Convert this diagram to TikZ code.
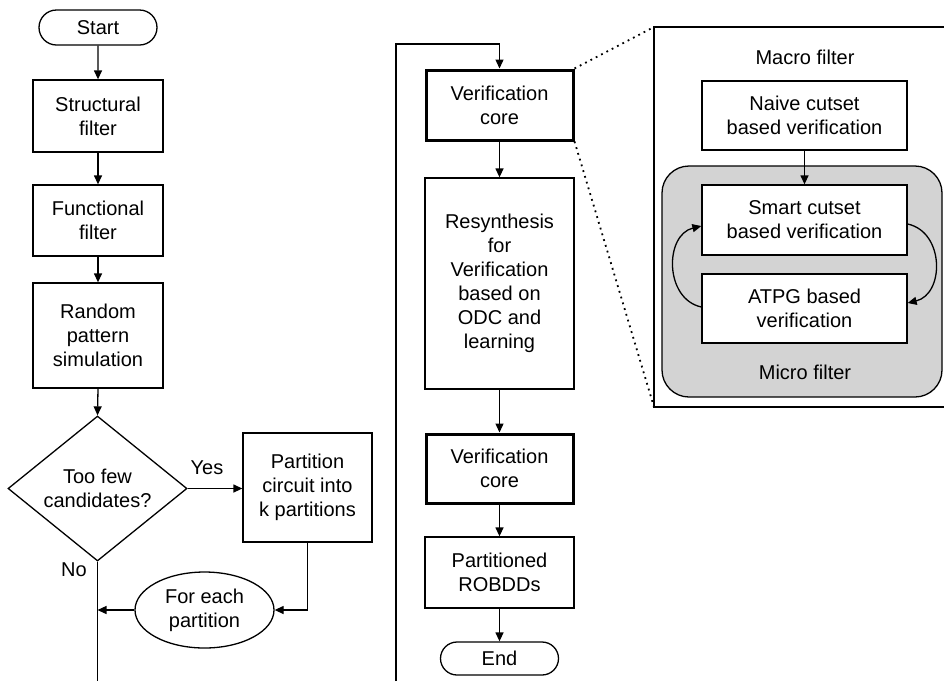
\documentclass[tikz,border=0pt]{standalone}
\usepackage{fontspec}
\setmainfont{Liberation Sans}
\usetikzlibrary{shapes.geometric,shapes.misc,arrows.meta}
\definecolor{microgray}{RGB}{211,211,211}
\begin{document}
\begin{tikzpicture}[x=1pt,y=-1pt,
  every node/.style={font=\fontsize{20}{24}\selectfont, align=center, inner sep=0pt},
  box/.style={draw, line width=1.3pt, rectangle},
  corebox/.style={draw, line width=3pt, rectangle},
  term/.style={draw, line width=1.3pt, rounded rectangle},
  plain/.style={line width=1.3pt},
  flow/.style={line width=1.3pt, -{Triangle[length=9pt,width=8pt]}},
  dotline/.style={line width=1.8pt, dash pattern=on 1.8pt off 4.2pt}]
\useasboundingbox (0,0) rectangle (944,681);

% left column
\node[term, minimum width=118pt, minimum height=35pt] (start) at (98,27.5) {Start};
\node[box, minimum width=130pt, minimum height=72pt] (struct) at (98,116) {Structural\\filter};
\node[box, minimum width=130pt, minimum height=71pt] (func) at (98,220.5) {Functional\\filter};
\node[box, minimum width=130pt, minimum height=105pt] (rand) at (98,335.5) {Random\\pattern\\simulation};
\node[draw, diamond, line width=1.3pt, aspect=1.234, minimum width=179pt, minimum height=145pt] (dec) at (97.5,488.5) {Too few\\candidates?};
\node (yes) at (207,468) {Yes};
\node[box, minimum width=129pt, minimum height=109pt] (part) at (307.5,487.5) {Partition\\circuit into\\k partitions};
\node (no) at (74,570) {No};
\node[draw, ellipse, line width=1.3pt, minimum width=139pt, minimum height=76pt] (each) at (204.5,610) {For each\\partition};
\coordinate (lbot) at (97.5,681);
\coordinate (join) at (97.5,610);

\draw[flow] (start) -- (struct);
\draw[flow] (struct) -- (func);
\draw[flow] (func) -- (rand);
\draw[flow] (rand.south) -- (dec.north);
\draw[flow] (dec.east) -- (part.west |- dec.east);
\draw[plain] (dec.south) -- (lbot);
\draw[flow] (part.south) |- (each.east);
\draw[flow] (each.west) -- (join);

% middle column
\node[corebox, minimum width=147pt, minimum height=70pt] (vc1) at (499.5,105) {Verification\\core};
\node[box, minimum width=149pt, minimum height=211pt] (resyn) at (499.5,283.5) {Resynthesis\\for\\Verification\\based on\\ODC and\\learning};
\node[corebox, minimum width=147pt, minimum height=69pt] (vc2) at (499.5,468.5) {Verification\\core};
\node[box, minimum width=149pt, minimum height=71pt] (robdd) at (499.5,572.5) {Partitioned\\ROBDDs};
\node[term, minimum width=118pt, minimum height=33pt] (end) at (499.5,658.5) {End};
\coordinate (mbot) at (396,681);
\coordinate (mtop) at (396,44);
\draw[flow] (mbot) -- (mtop) -| (vc1.north);
\draw[flow] (vc1) -- (resyn);
\draw[flow] (resyn) -- (vc2);
\draw[flow] (vc2) -- (robdd);
\draw[flow] (robdd) -- (end);

% right panel
\coordinate (mtl) at (654,27);
\coordinate (mbl) at (654,407);
\coordinate (mtr) at (944,27);
\coordinate (mbr) at (944,407);
\draw[plain] (mtr) -- (mtl) -- (mbl) -- (mbr);
\node (macrolbl) at (805,57) {Macro filter};
\node[draw, line width=1.3pt, fill=microgray, rounded corners=27pt, minimum width=280pt, minimum height=231pt] (micro) at (802,281.5) {};
\node (microlbl) at (805,372) {Micro filter};
\node[box, fill=white, minimum width=205pt, minimum height=69pt] (naive) at (804.5,115.5) {Naive cutset\\based verification};
\node[box, fill=white, minimum width=205pt, minimum height=70pt] (smart) at (804.5,220) {Smart cutset\\based verification};
\node[box, fill=white, minimum width=205pt, minimum height=69pt] (atpg) at (804.5,308.5) {ATPG based\\verification};
\draw[flow] (naive) -- (smart);
\draw[flow] ([yshift=1.5pt]atpg.west) .. controls +(-37,-8) and +(-37,9) .. ([yshift=-6pt]smart.west);
\draw[flow] ([yshift=-4pt]smart.east) .. controls +(37,8) and +(37,-9) .. ([yshift=5.5pt]atpg.east);

% zoom lines
\draw[dotline] (vc1.north east) -- (mtl);
\draw[dotline] (vc1.south east) -- (mbl);
\end{tikzpicture}
\end{document}
